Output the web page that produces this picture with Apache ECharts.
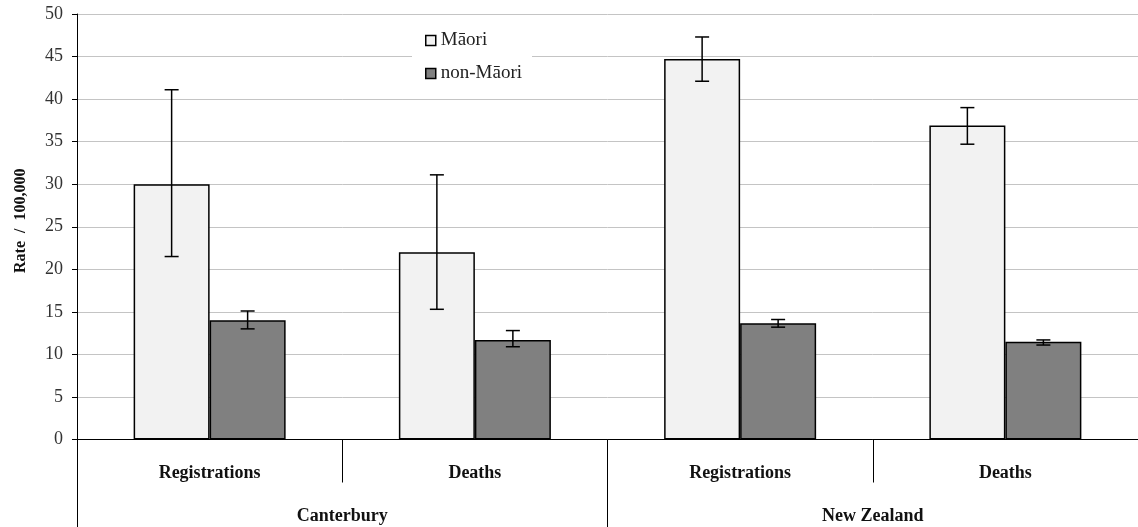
<!DOCTYPE html>
<html>
<head>
<meta charset="utf-8">
<script src="https://cdn.jsdelivr.net/npm/echarts@6/dist/echarts.min.js"></script>
<style>
html,body{margin:0;padding:0;background:#fff;}
#chart{width:1138px;height:527px;}
</style>
</head>
<body>
<div id="chart"></div>
<script>
var categories = ['Registrations', 'Deaths', 'Registrations', 'Deaths'];
var groups = ['Canterbury', 'New Zealand'];
var maori = [30.0, 22.0, 44.7, 36.9];
var maoriLow = [21.5, 15.3, 42.1, 34.7];
var maoriHigh = [41.1, 31.1, 47.3, 39.0];
var nonMaori = [14.0, 11.7, 13.65, 11.5];
var nonMaoriLow = [13.0, 10.9, 13.2, 11.1];
var nonMaoriHigh = [15.1, 12.8, 14.1, 11.7];
var yTicks = [0, 5, 10, 15, 20, 25, 30, 35, 40, 45, 50];

var FONT = '"Liberation Serif", "DejaVu Serif", serif';
var BAR_W = 76;

var errData = [];
for (var i = 0; i < categories.length; i++) {
  errData.push([i, maoriLow[i], maoriHigh[i], -1]);
  errData.push([i, nonMaoriLow[i], nonMaoriHigh[i], 1]);
}

function renderErr(params, api) {
  var idx = api.value(0);
  var lo = api.coord([idx, api.value(1)]);
  var hi = api.coord([idx, api.value(2)]);
  var x = lo[0] + api.value(3) * BAR_W / 2;
  var cap = 7;
  var style = {stroke: '#000', lineWidth: 1.5, fill: null};
  return {
    type: 'group',
    children: [
      {type: 'line', shape: {x1: x, y1: hi[1], x2: x, y2: lo[1]}, style: style},
      {type: 'line', shape: {x1: x - cap, y1: hi[1], x2: x + cap, y2: hi[1]}, style: style},
      {type: 'line', shape: {x1: x - cap, y1: lo[1], x2: x + cap, y2: lo[1]}, style: style}
    ]
  };
}

var chart = echarts.init(document.getElementById('chart'), null, {renderer: 'canvas'});
chart.setOption({
  animation: false,
  backgroundColor: '#fff',
  textStyle: {fontFamily: FONT},
  grid: {left: 77, right: 0, top: 14, bottom: 87.5, containLabel: false},
  legend: {
    data: ['Māori', 'non-Māori'],
    orient: 'vertical',
    left: 412,
    top: 25,
    backgroundColor: '#fff',
    padding: [6, 10, 6, 13],
    itemWidth: 10,
    itemHeight: 10,
    itemGap: 14,
    icon: 'rect',
    itemStyle: {borderColor: '#000', borderWidth: 1.5},
    textStyle: {fontFamily: FONT, fontSize: 19, color: '#222'}
  },
  xAxis: [
    {
      type: 'category',
      data: categories,
      position: 'bottom',
      axisLine: {show: true, lineStyle: {color: '#000', width: 1}},
      axisTick: {show: true, length: 43, interval: 0, lineStyle: {color: '#000', width: 1}},
      axisLabel: {interval: 0, margin: 25, fontFamily: FONT, fontSize: 18, fontWeight: 'bold', color: '#111'},
      splitLine: {show: false}
    },
    {
      type: 'category',
      data: groups,
      position: 'bottom',
      axisLine: {show: false},
      axisTick: {show: true, length: 90, interval: 0, lineStyle: {color: '#000', width: 1}},
      axisLabel: {interval: 0, margin: 68, fontFamily: FONT, fontSize: 18, fontWeight: 'bold', color: '#111'},
      splitLine: {show: false}
    }
  ],
  yAxis: {
    type: 'value',
    min: yTicks[0],
    max: yTicks[yTicks.length - 1],
    interval: 5,
    name: 'Rate  /  100,000',
    nameLocation: 'middle',
    nameGap: 48,
    nameTextStyle: {fontFamily: FONT, fontSize: 16, fontWeight: 'bold', color: '#111', padding: [0, 0, 0, 12]},
    axisLine: {show: true, lineStyle: {color: '#000', width: 1}},
    axisTick: {show: true, length: 5, lineStyle: {color: '#000'}},
    axisLabel: {fontFamily: FONT, fontSize: 18, color: '#333', margin: 14},
    splitLine: {show: true, lineStyle: {color: '#c4c4c4', width: 1}}
  },
  series: [
    {
      name: 'Māori',
      type: 'bar',
      data: maori,
      barWidth: BAR_W,
      barGap: '0%',
      itemStyle: {color: '#f2f2f2', borderColor: '#000', borderWidth: 1.5}
    },
    {
      name: 'non-Māori',
      type: 'bar',
      data: nonMaori,
      barWidth: BAR_W,
      barGap: '0%',
      itemStyle: {color: '#808080', borderColor: '#000', borderWidth: 1.5}
    },
    {
      name: 'err',
      type: 'custom',
      renderItem: renderErr,
      data: errData,
      encode: {x: 0, y: [1, 2]},
      z: 10,
      silent: true
    }
  ]
});
</script>
</body>
</html>
